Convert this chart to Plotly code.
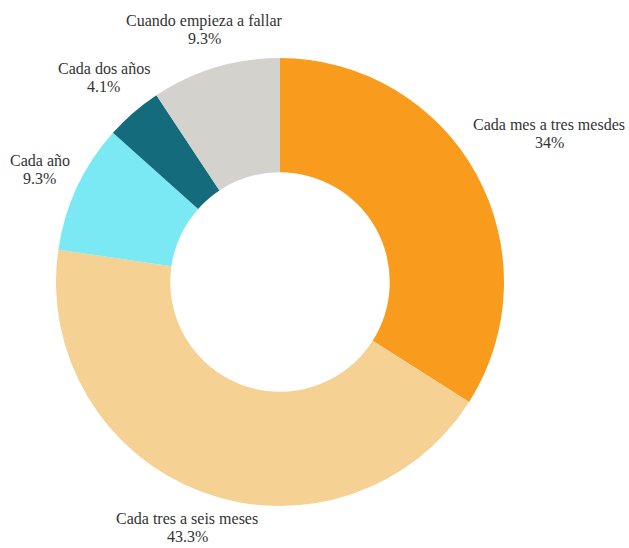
import math
import plotly.graph_objects as go

labels = ["Cada mes a tres mesdes", "Cada tres a seis meses", "Cada año", "Cada dos años", "Cuando empieza a fallar"]
values = [34, 43.3, 9.3, 4.1, 9.3]
colors = ["#F99B1C", "#F5D193", "#7AE9F3", "#136B7B", "#D3D2CD"]

W, H = 629, 548
cx, cy, r = 280, 282, 224
font_size = 16
line_gap = 18
serif = "Times New Roman"
text_color = "#333333"

fig = go.Figure(go.Pie(
    labels=labels,
    values=values,
    textinfo="none",
    hoverinfo="label+percent",
    sort=False,
    direction="clockwise",
    rotation=0,
    hole=0.49,
    marker=dict(colors=colors, line=dict(width=0)),
    showlegend=False,
    domain=dict(x=[(cx - r) / W, (cx + r) / W], y=[1 - (cy + r) / H, 1 - (cy - r) / H]),
))

# outside labels placed along each slice's mid-angle, pushed out by text half-width
total = sum(values)
cum = 0.0
for lab, v in zip(labels, values):
    mid = (cum + v / 2) / total * 2 * math.pi
    cum += v
    s, c = math.sin(mid), math.cos(mid)
    half_w = len(lab) * 3.5 * font_size / 16
    rho = r + 16 + half_w * abs(s)
    px = cx + rho * s
    py = cy - rho * c
    # keep the two-line label inside the page
    py = min(max(py, line_gap / 2 + 11), H - line_gap / 2 - 12)
    for txt, shift in ((lab, line_gap / 2), (f"{v:g}%", -line_gap / 2)):
        fig.add_annotation(
            x=px / W, y=1 - py / H, xref="paper", yref="paper",
            text=txt, showarrow=False, yshift=shift,
            xanchor="center", yanchor="middle", align="center",
            font=dict(family=serif, size=font_size, color=text_color),
        )

fig.update_layout(
    width=W, height=H,
    margin=dict(l=0, r=0, t=0, b=0),
    font=dict(family=serif, size=font_size, color=text_color),
    paper_bgcolor="white",
    plot_bgcolor="white",
)
fig.write_html("out.html", config={"displayModeBar": False},
               post_script="document.body.style.margin='0';")
